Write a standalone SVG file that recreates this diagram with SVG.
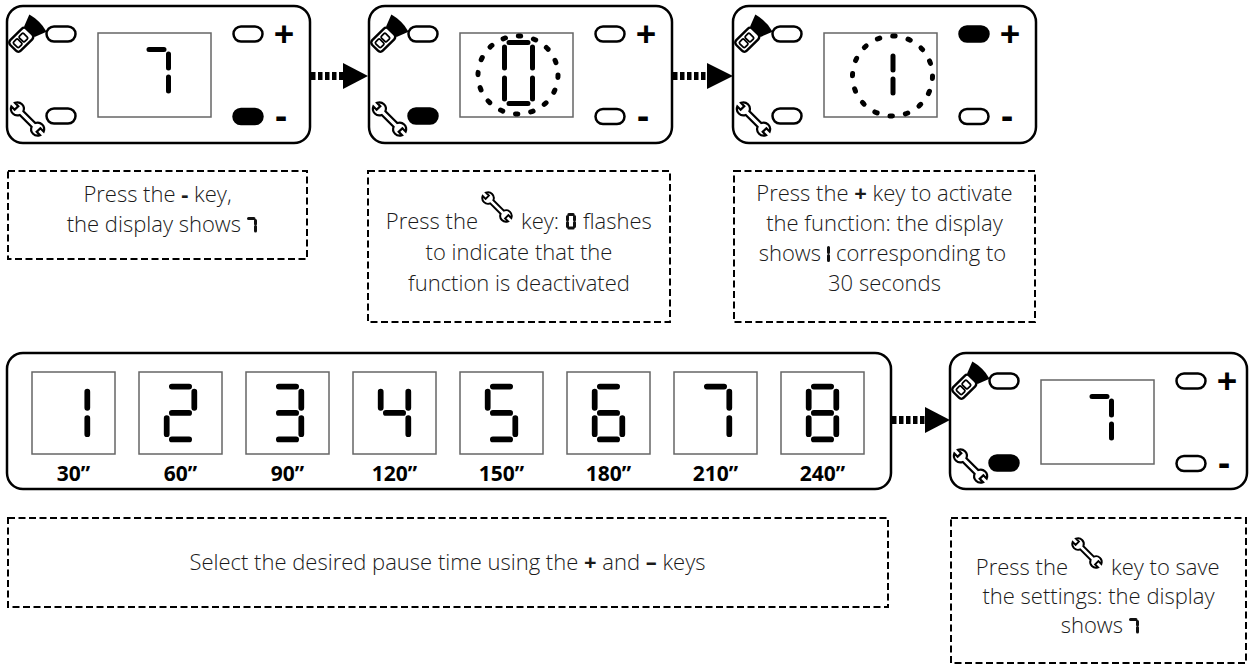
<svg xmlns="http://www.w3.org/2000/svg" xmlns:xlink="http://www.w3.org/1999/xlink" width="1249" height="668" viewBox="0 0 1249 668">
<style>
.panel{fill:#fff;stroke:#000;stroke-width:2.5}
.disp{fill:#fff;stroke:#666;stroke-width:1.5}
.btn{fill:#fff;stroke:#000;stroke-width:2.5}
.on{fill:#000}
.seg{fill:none;stroke:#000;stroke-width:5;stroke-linecap:round}
.sseg{fill:none;stroke:#111;stroke-width:3;stroke-linecap:round}
.ring{fill:none;stroke:#000;stroke-width:5;stroke-linecap:round}
.note{fill:none;stroke:#000;stroke-width:2;stroke-dasharray:7 3.5}
.t{font-family:'Open Sans','Liberation Sans',sans-serif;font-size:22px;font-weight:300;fill:#1a1a1a}
.b{font-weight:700}
.sign{font-family:'Open Sans','Liberation Sans',sans-serif;font-size:36px;font-weight:700;fill:#000}
.lbl{font-family:'Open Sans','Liberation Sans',sans-serif;font-size:21px;font-weight:700;fill:#000}
.arrow{fill:#000}
.shaft{stroke:#000;stroke-width:8;stroke-dasharray:4.5 2.5}
.gbox{fill:#fff;stroke:#666;stroke-width:1.5}
.ico{fill:#fff;stroke:#000;stroke-width:1.7}
</style>
<defs>
<g id="wrench"><path class="ico" d="M6.42,-2 A5 5 0 0 1 15.58,-2 L12,-2 L12,2 L15.58,2 A5 5 0 0 1 6.42,2 L-6.42,2 A5 5 0 0 1 -15.58,2 L-12,2 L-12,-2 L-15.58,-2 A5 5 0 0 1 -6.42,-2 Z" transform="rotate(45)"/></g>
<g id="flash" transform="rotate(-45)">
<rect x="-14" y="-5.5" width="17" height="11" rx="2.5" fill="#fff" stroke="#000" stroke-width="1.8"/>
<rect x="-11.5" y="-2.8" width="4.5" height="5.6" rx="1" fill="none" stroke="#000" stroke-width="1.3"/>
<rect x="-5.5" y="-2.8" width="4.5" height="5.6" rx="1" fill="none" stroke="#000" stroke-width="1.3"/>
<path d="M3,-5.5 L12,-9 Q14.5,0 12,9 L3,5.5 Z" fill="#000"/>
</g>
<path id="d1" class="seg" d="M24 4.5V18.5M24 27.5V41.5"/>
<path id="d2" class="seg" d="M4.5 0H19.5M24 4.5V18.5M4.5 23H19.5M0 27.5V41.5M4.5 46H19.5"/>
<path id="d3" class="seg" d="M4.5 0H19.5M24 4.5V18.5M4.5 23H19.5M24 27.5V41.5M4.5 46H19.5"/>
<path id="d4" class="seg" d="M0 4.5V18.5M24 4.5V18.5M4.5 23H19.5M24 27.5V41.5"/>
<path id="d5" class="seg" d="M4.5 0H19.5M0 4.5V18.5M4.5 23H19.5M24 27.5V41.5M4.5 46H19.5"/>
<path id="d6" class="seg" d="M4.5 0H19.5M0 4.5V18.5M4.5 23H19.5M0 27.5V41.5M24 27.5V41.5M4.5 46H19.5"/>
<path id="d7" class="seg" d="M4.5 0H19.5M24 4.5V18.5M24 27.5V41.5"/>
<path id="d8" class="seg" d="M4.5 0H19.5M24 4.5V18.5M24 27.5V41.5M4.5 46H19.5M0 27.5V41.5M0 4.5V18.5M4.5 23H19.5"/>
<path id="s7" class="sseg" d="M1.5 1.5H7M8.5 3.5V7M8.5 9.5V14"/>
<path id="s0" class="sseg" d="M2.8 1.5H7.2M1.5 3.5V7M1.5 9.5V13.5M2.8 15H7.2M8.5 3.5V7M8.5 9.5V13.5"/>
<path id="s1" class="sseg" d="M1.5 1.5V6.5M1.5 9.5V14.5"/>
</defs>

<g id="panel1">
<rect class="panel" x="7" y="6" width="303" height="137" rx="16"/>
<rect class="disp" x="98" y="33" width="113" height="84"/>
<rect class="btn" x="46.5" y="26.5" width="29" height="15" rx="7.5"/>
<rect class="btn" x="46.5" y="108.5" width="29" height="15" rx="7.5"/>
<rect class="btn" x="233.5" y="26.5" width="29" height="15" rx="7.5"/>
<rect class="btn on" x="233.5" y="109" width="29" height="15" rx="7.5"/>
<text class="sign" x="284" y="47" text-anchor="middle">+</text>
<text class="sign" x="281" y="128" text-anchor="middle">-</text>
<use xlink:href="#flash" transform="translate(26.5,34.5) scale(1.35)"/>
<use xlink:href="#wrench" transform="translate(27.5,119) scale(1.3)"/>
<use xlink:href="#d7" transform="translate(144.5,49.5)"/>
</g>

<g id="panel2">
<g transform="translate(362,0)">
<rect class="panel" x="7" y="6" width="303" height="137" rx="16"/>
<rect class="disp" x="98" y="33" width="113" height="84"/>
<rect class="btn" x="46.5" y="26.5" width="29" height="15" rx="7.5"/>
<rect class="btn on" x="46.5" y="108.5" width="29" height="15" rx="7.5"/>
<rect class="btn" x="233.5" y="26.5" width="29" height="15" rx="7.5"/>
<rect class="btn" x="233.5" y="109" width="29" height="15" rx="7.5"/>
<text class="sign" x="284" y="47" text-anchor="middle">+</text>
<text class="sign" x="281" y="128" text-anchor="middle">-</text>
<use xlink:href="#flash" transform="translate(26.5,34.5) scale(1.35)"/>
<use xlink:href="#wrench" transform="translate(27.5,119) scale(1.3)"/>
</g>
<path class="seg" d="M509 42.5H528M504.5 47V68M504.5 78V99M509 103.5H528M532.5 47V68M532.5 78V99"/>
<ellipse class="ring" cx="518" cy="75" rx="40" ry="39" stroke-dasharray="2.5 13.01"/>
</g>

<g id="panel3">
<g transform="translate(726,0)">
<rect class="panel" x="7" y="6" width="303" height="137" rx="16"/>
<rect class="disp" x="98" y="33" width="113" height="84"/>
<rect class="btn" x="46.5" y="26.5" width="29" height="15" rx="7.5"/>
<rect class="btn" x="46.5" y="108.5" width="29" height="15" rx="7.5"/>
<rect class="btn on" x="233.5" y="26.5" width="29" height="15" rx="7.5"/>
<rect class="btn" x="233.5" y="109" width="29" height="15" rx="7.5"/>
<text class="sign" x="284" y="47" text-anchor="middle">+</text>
<text class="sign" x="281" y="128" text-anchor="middle">-</text>
<use xlink:href="#flash" transform="translate(26.5,34.5) scale(1.35)"/>
<use xlink:href="#wrench" transform="translate(27.5,119) scale(1.3)"/>
</g>
<use xlink:href="#d1" transform="translate(869,51.5)"/>
<circle class="ring" cx="892.5" cy="76" r="40" stroke-dasharray="2.5 13.2"/>
</g>

<g id="panel4">
<g transform="translate(943,347)">
<rect class="panel" x="7" y="6" width="297" height="136" rx="16"/>
<rect class="disp" x="98" y="33" width="113" height="84"/>
<rect class="btn" x="46.5" y="26.5" width="29" height="15" rx="7.5"/>
<rect class="btn on" x="46.5" y="108.5" width="29" height="15" rx="7.5"/>
<rect class="btn" x="233.5" y="26.5" width="29" height="15" rx="7.5"/>
<rect class="btn" x="233.5" y="109" width="29" height="15" rx="7.5"/>
<text class="sign" x="284" y="47" text-anchor="middle">+</text>
<text class="sign" x="281" y="128" text-anchor="middle">-</text>
<use xlink:href="#flash" transform="translate(26.5,34.5) scale(1.35)"/>
<use xlink:href="#wrench" transform="translate(27.5,119) scale(1.3)"/>
<use xlink:href="#d7" transform="translate(144.5,49.5)"/>
</g>
</g>

<g id="timeline">
<rect class="panel" x="7" y="353" width="884" height="136" rx="16"/>
<rect class="gbox" x="32" y="372" width="83" height="82"/>
<rect class="gbox" x="139" y="372" width="83" height="82"/>
<rect class="gbox" x="246" y="372" width="83" height="82"/>
<rect class="gbox" x="353" y="372" width="83" height="82"/>
<rect class="gbox" x="460" y="372" width="83" height="82"/>
<rect class="gbox" x="567" y="372" width="83" height="82"/>
<rect class="gbox" x="674" y="372" width="83" height="82"/>
<rect class="gbox" x="781" y="372" width="83" height="82"/>
<use xlink:href="#d1" transform="translate(59.7,386.5) scale(1.15)"/>
<use xlink:href="#d2" transform="translate(166.7,386.5) scale(1.15)"/>
<use xlink:href="#d3" transform="translate(273.7,386.5) scale(1.15)"/>
<use xlink:href="#d4" transform="translate(380.7,386.5) scale(1.15)"/>
<use xlink:href="#d5" transform="translate(487.7,386.5) scale(1.15)"/>
<use xlink:href="#d6" transform="translate(594.7,386.5) scale(1.15)"/>
<use xlink:href="#d7" transform="translate(701.7,386.5) scale(1.15)"/>
<use xlink:href="#d8" transform="translate(808.7,386.5) scale(1.15)"/>
<text class="lbl" x="73.5" y="481" text-anchor="middle">30”</text>
<text class="lbl" x="180.5" y="481" text-anchor="middle">60”</text>
<text class="lbl" x="287.5" y="481" text-anchor="middle">90”</text>
<text class="lbl" x="394.5" y="481" text-anchor="middle">120”</text>
<text class="lbl" x="501.5" y="481" text-anchor="middle">150”</text>
<text class="lbl" x="608.5" y="481" text-anchor="middle">180”</text>
<text class="lbl" x="715.5" y="481" text-anchor="middle">210”</text>
<text class="lbl" x="822.5" y="481" text-anchor="middle">240”</text>
</g>

<g id="connectors">
<line class="shaft" x1="311" y1="76" x2="346" y2="76"/>
<polygon class="arrow" points="343,63 368,76 343,89"/>
<line class="shaft" x1="673" y1="76" x2="710" y2="76"/>
<polygon class="arrow" points="707,63 733,76 707,89"/>
<line class="shaft" x1="892" y1="420" x2="928" y2="420"/>
<polygon class="arrow" points="925,407 950,420 925,433"/>
</g>

<g id="note1">
<rect class="note" x="8" y="171" width="299" height="88"/>
<text class="t" x="157.5" y="202" text-anchor="middle">Press the <tspan class="b">-</tspan> key,</text>
<text class="t" x="241" y="232" text-anchor="end">the display shows</text>
<use xlink:href="#s7" transform="translate(247,217)"/>
</g>

<g id="note2">
<rect class="note" x="368" y="171" width="302" height="151"/>
<text class="t" x="478" y="229" text-anchor="end">Press the</text>
<use xlink:href="#wrench" transform="translate(497,207) scale(1.15)"/>
<text class="t" x="521" y="229">key:</text>
<use xlink:href="#s0" transform="translate(566,213)"/>
<text class="t" x="583" y="229">flashes</text>
<text class="t" x="519" y="260" text-anchor="middle">to indicate that the</text>
<text class="t" x="519" y="291" text-anchor="middle">function is deactivated</text>
</g>

<g id="note3">
<rect class="note" x="734" y="171" width="301" height="151"/>
<text class="t" x="884.5" y="201" text-anchor="middle">Press the <tspan class="b">+</tspan> key to activate</text>
<text class="t" x="884.5" y="231" text-anchor="middle">the function: the display</text>
<text class="t" x="821" y="261" text-anchor="end">shows</text>
<use xlink:href="#s1" transform="translate(827,246)"/>
<text class="t" x="836" y="261">corresponding to</text>
<text class="t" x="884.5" y="291" text-anchor="middle">30 seconds</text>
</g>

<g id="note4">
<rect class="note" x="8" y="518" width="880" height="89"/>
<text class="t" x="447.5" y="570" text-anchor="middle">Select the desired pause time using the <tspan class="b">+</tspan> and <tspan class="b">–</tspan> keys</text>
</g>

<g id="note5">
<rect class="note" x="951" y="518" width="295" height="145"/>
<text class="t" x="1068" y="575" text-anchor="end">Press the</text>
<use xlink:href="#wrench" transform="translate(1087,553) scale(1.15)"/>
<text class="t" x="1111" y="575">key to save</text>
<text class="t" x="1098.5" y="604" text-anchor="middle">the settings: the display</text>
<text class="t" x="1123" y="633" text-anchor="end">shows</text>
<use xlink:href="#s7" transform="translate(1129,618)"/>
</g>
</svg>
